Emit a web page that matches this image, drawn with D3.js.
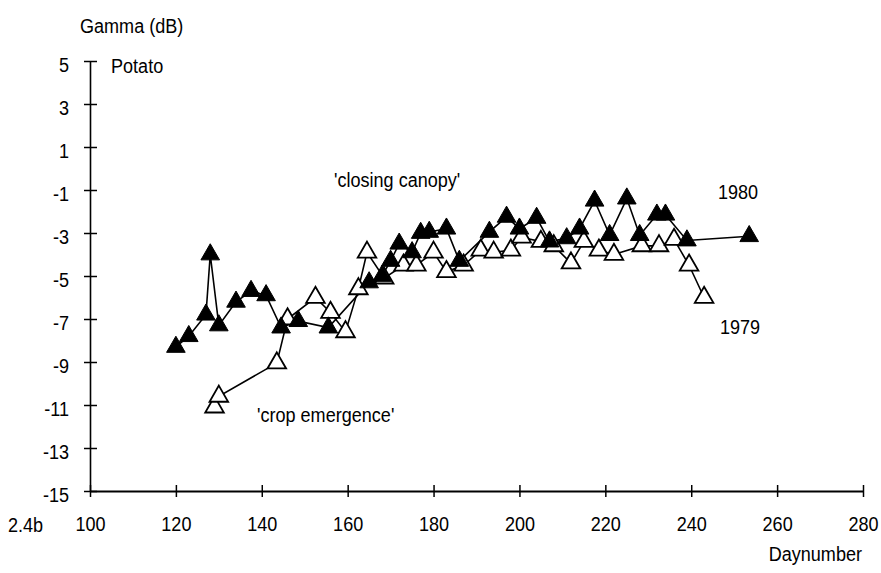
<!DOCTYPE html>
<html>
<head>
<meta charset="utf-8">
<script src="https://cdn.jsdelivr.net/npm/d3@7/dist/d3.min.js"></script>
<style>
  body { margin: 0; background: #fff; }
  svg text { font-family: "Liberation Sans", Arial, Helvetica, sans-serif; fill: #000; }
</style>
</head>
<body>
<svg id="chart" width="881" height="573"></svg>
<script>
// Potato backscatter gamma (dB) versus day number, two growing seasons
const xTicks = [100, 120, 140, 160, 180, 200, 220, 240, 260, 280];
const yTicks = [5, 3, 1, -1, -3, -5, -7, -9, -11, -13, -15];

const days1980 = [120, 123, 127, 128, 130, 134, 137.5, 141, 144.5, 148.5, 155.5, 165, 168, 170, 172, 175, 177, 179, 183, 186, 193, 197, 200, 204, 207, 211, 214, 217.5, 221, 225, 228, 232, 234, 239, 253.5];
const gamma1980 = [-8.3, -7.8, -6.8, -4.0, -7.3, -6.2, -5.7, -5.9, -7.4, -7.1, -7.4, -5.3, -5.0, -4.3, -3.5, -3.9, -3.0, -2.95, -2.8, -4.3, -2.95, -2.25, -2.8, -2.3, -3.4, -3.25, -2.8, -1.5, -3.1, -1.4, -3.1, -2.15, -2.15, -3.35, -3.15];

const days1979 = [129, 130, 143.5, 146, 152.5, 156, 159.5, 162.5, 164.5, 168.5, 173, 176, 180, 183, 187, 191, 194, 198, 200.5, 205, 208, 212, 215, 218.5, 222, 228.5, 232.5, 236, 239.5, 243];
const gamma1979 = [-11.1, -10.6, -9.05, -7.0, -6.0, -6.7, -7.6, -5.6, -3.9, -5.1, -4.5, -4.5, -3.9, -4.8, -4.5, -3.8, -3.9, -3.8, -3.2, -3.4, -3.6, -4.4, -3.4, -3.8, -4.0, -3.6, -3.6, -3.3, -4.5, -6.0];

const FONT = 21;      // px
const SQUEEZE = 0.86; // condensed look of the lettering

const svg = d3.select("#chart");
const x = d3.scaleLinear().domain([100, 280]).range([90, 863]);
const y = d3.scaleLinear().domain([-15, 5]).range([491, 61]);

// axes
const yAxis = d3.axisLeft(y).tickValues(yTicks).tickSizeInner(7).tickSizeOuter(0).tickFormat(d3.format("d"));
const gy = svg.append("g").attr("transform", `translate(${x(100)},0)`).call(yAxis);
gy.select(".domain").attr("stroke", "#000").attr("stroke-width", 1.6);
gy.selectAll(".tick line").attr("x2", -6).attr("x1", 7).attr("stroke", "#000").attr("stroke-width", 1.5);
gy.selectAll(".tick text")
  .attr("x", -21 / SQUEEZE).attr("y", 3).attr("dy", "0.36em")
  .attr("transform", `scale(${SQUEEZE},1)`)
  .style("font-size", FONT + "px").text(d => d);

const xAxis = d3.axisBottom(x).tickValues(xTicks).tickSizeInner(6).tickSizeOuter(0);
const gx = svg.append("g").attr("transform", `translate(0,${y(-15)})`).call(xAxis);
gx.select(".domain").attr("stroke", "#000").attr("stroke-width", 1.8);
gx.selectAll(".tick line").attr("y1", -6).attr("y2", 6).attr("stroke", "#000").attr("stroke-width", 1.5);
gx.selectAll(".tick text")
  .attr("y", 32).attr("dy", "0.36em")
  .attr("transform", `scale(${SQUEEZE},1)`)
  .style("font-size", FONT + "px");

// series lines
const line = d3.line().x(d => x(d[0])).y(d => y(d[1]));
const s1979 = days1979.map((d, i) => [d, gamma1979[i]]);
const s1980 = days1980.map((d, i) => [d, gamma1980[i]]);

svg.append("path").datum(s1979).attr("d", line).attr("fill", "none").attr("stroke", "#000").attr("stroke-width", 1.6);
svg.append("path").datum(s1980).attr("d", line).attr("fill", "none").attr("stroke", "#000").attr("stroke-width", 1.6);

// triangle markers
const tri = d3.symbol().type(d3.symbolTriangle).size(150);
svg.append("g").selectAll("path").data(s1979).join("path")
  .attr("d", tri)
  .attr("transform", d => `translate(${x(d[0])},${y(d[1])})`)
  .attr("fill", "#fff").attr("stroke", "#000").attr("stroke-width", 1.8);
svg.append("g").selectAll("path").data(s1980).join("path")
  .attr("d", tri)
  .attr("transform", d => `translate(${x(d[0])},${y(d[1])})`)
  .attr("fill", "#000").attr("stroke", "#000").attr("stroke-width", 1);

// labels
const label = (t, px, py, anchor) => svg.append("text")
  .attr("transform", `translate(${px},${py}) scale(${SQUEEZE},1)`)
  .attr("text-anchor", anchor || "start")
  .style("font-size", FONT + "px").text(t);

label("Gamma (dB)", 80, 33);
label("Potato", 111, 73);
label("'closing canopy'", 334, 187);
label("1980", 718, 199);
label("1979", 720, 334);
label("'crop emergence'", 257, 422);
label("2.4b", 8, 532);
label("Daynumber", 862, 561, "end");
</script>
</body>
</html>
